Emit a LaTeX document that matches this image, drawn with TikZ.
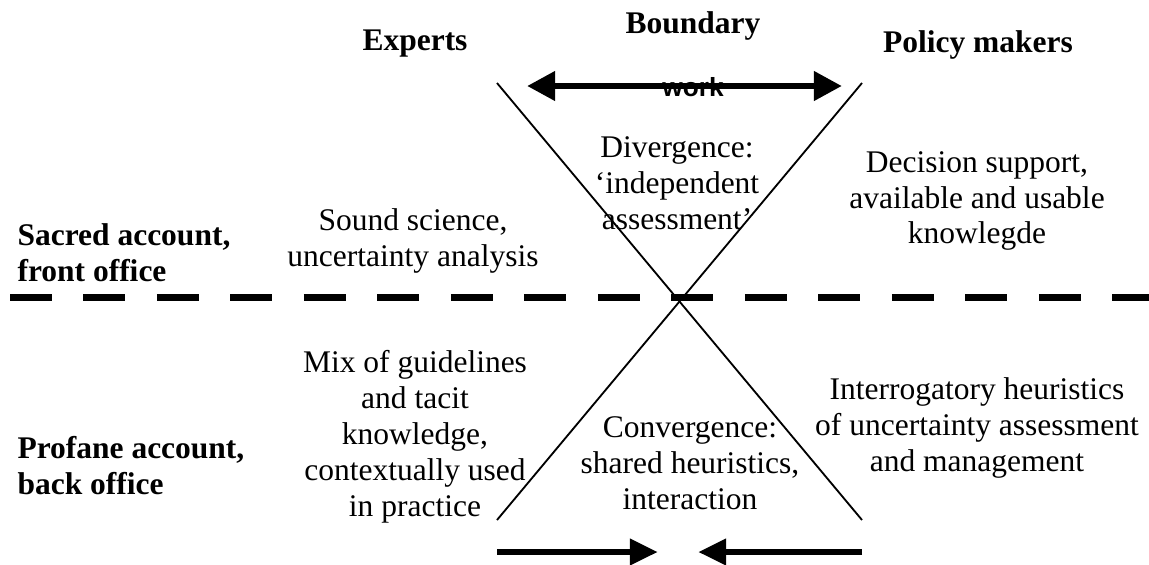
\documentclass[tikz,border=0pt]{standalone}
\usepackage{fontspec}
\setmainfont{Liberation Serif}
\newfontfamily\worksans{Liberation Sans}
\usetikzlibrary{arrows.meta}
\newcommand\bodysize{\fontsize{12pt}{13.7pt}\selectfont}

\begin{document}
\begin{tikzpicture}[
  x=0.381pt, y=-0.381pt,
  >={Triangle[length=10.7pt, width=10.7pt]},
  head/.style={font=\bodysize\bfseries, anchor=base, inner sep=0pt},
  side/.style={font=\bodysize\bfseries, align=left, anchor=west, inner sep=0pt},
  lab/.style={font=\bodysize, align=center, inner sep=0pt},
  cross/.style={line width=0.7pt},
  flow/.style={->, line width=2.6pt},
  divide/.style={line width=2.67pt, dash pattern=on 16pt off 12pt}
]
  \useasboundingbox (0,0) rectangle (1149,564);

  % column heads
  \node[head] (boundary) at (693,33) {Boundary};
  \node[head, font=\worksans\fontsize{10pt}{12pt}\selectfont\bfseries] (work) at (693,96) {work};
  \node[head] (experts) at (415,50) {Experts};
  \node[head] (policy) at (978,52) {Policy makers};

  % row heads
  \node[side] (sacred) at (17,253) {Sacred account,\\front office};
  \node[side] (profane) at (17,466) {Profane account,\\back office};

  % front office
  \node[lab] (sound) at (413,241) {Sound science,\\uncertainty analysis};
  \node[lab] (diverge) at (677,183) {Divergence:\\`independent\\assessment'};
  \node[lab] (support) at (977,201) {Decision support,\\available and usable\\knowlegde};

  % back office
  \node[lab] (mix) at (415,437) {Mix of guidelines\\and tacit\\knowledge,\\contextually used\\in practice};
  \node[lab] (converge) at (690,463) {Convergence:\\shared heuristics,\\interaction};
  \node[lab] (interrog) at (977,428) {Interrogatory heuristics\\of uncertainty assessment\\and management};

  % the hourglass
  \coordinate (tl) at (497,83);
  \coordinate (tr) at (862,83);
  \coordinate (bl) at (497,520);
  \coordinate (br) at (862,520);
  \draw[cross] (tl) -- (br);
  \draw[cross] (tr) -- (bl);

  % sacred / profane divide
  \coordinate (dl) at (10,297);
  \coordinate (dr) at (1149,297);
  \draw[divide] (dl) -- (dr);

  % boundary work arrows
  \coordinate (wl) at (527,86);
  \coordinate (wr) at (842,86);
  \draw[flow, <->] (wl) -- (wr);

  \coordinate (al) at (497,552);
  \coordinate (ac) at (658,552);
  \coordinate (bc) at (698,552);
  \coordinate (ar) at (862,552);
  \draw[flow, >={Triangle[length=10.7pt, width=9.5pt]}] (al) -- (ac);
  \draw[flow, >={Triangle[length=10.7pt, width=9.5pt]}] (ar) -- (bc);
\end{tikzpicture}
\end{document}
